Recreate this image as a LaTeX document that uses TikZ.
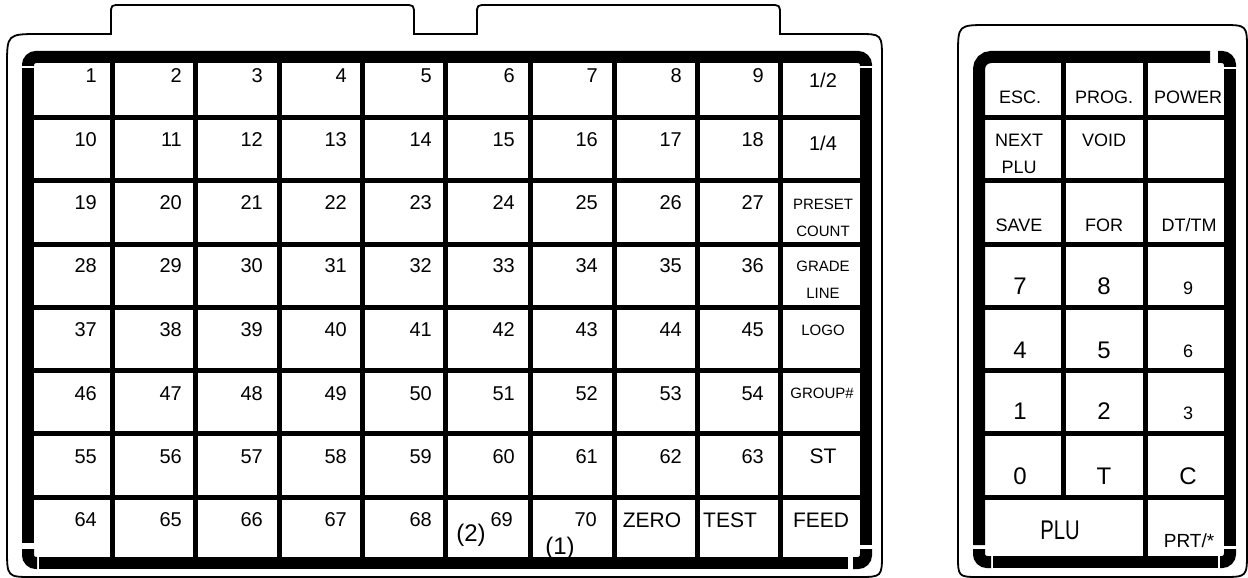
\documentclass[tikz,border=0pt]{standalone}
\usepackage{fontspec}
\setmainfont{Liberation Sans}
\tikzset{
  frame/.style={line width=12pt},
  bar/.style={line width=5pt},
  outline/.style={line width=1.8pt},
  num/.style={anchor=east, inner sep=0pt, font=\fontsize{20}{24}\selectfont},
  frac/.style={inner sep=0pt, font=\fontsize{20}{24}\selectfont},
  word/.style={inner sep=0pt, font=\fontsize{21}{25}\selectfont},
  note/.style={inner sep=0pt, font=\fontsize{24}{28}\selectfont},
  tag/.style={inner sep=0pt, align=center, font=\fontsize{15}{27}\selectfont},
  pad/.style={inner sep=0pt, align=center, font=\fontsize{18}{27}\selectfont},
  digit/.style={inner sep=0pt, font=\fontsize{24}{28}\selectfont}
}
\begin{document}
\begin{tikzpicture}[x=1pt,y=-1pt]
\useasboundingbox (0,0) rectangle (1248,578);
% outer outlines
\draw[outline] (7,548) -- (7,66) .. controls (7,34) .. (40,34) -- (111,34) -- (111,14) .. controls (111,5) .. (121,5) -- (404,5) .. controls (414,5) .. (414,15) -- (414,34) -- (477,34) -- (477,14) .. controls (477,5) .. (487,5) -- (770,5) .. controls (780,5) .. (780,15) -- (780,34) -- (858,34) .. controls (882,34) .. (882,60) -- (882,553) .. controls (882,577) .. (858,577) -- (32,577) .. controls (7,577) .. (7,548) -- cycle;
\draw[outline] (958,55) .. controls (958,25) .. (988,25) -- (1222,25) .. controls (1247,25) .. (1247,50) -- (1247,552) .. controls (1247,577) .. (1222,577) -- (980,577) .. controls (958,577) .. (958,555) -- cycle;
% left keypad grid
\draw[bar] (112,57) -- (112,563);
\draw[bar] (195,57) -- (195,563);
\draw[bar] (279,57) -- (279,563);
\draw[bar] (362,57) -- (362,563);
\draw[bar] (445,57) -- (445,563);
\draw[bar] (530,57) -- (530,563);
\draw[bar] (614,57) -- (614,563);
\draw[bar] (697,57) -- (697,563);
\draw[bar] (780,57) -- (780,563);
\draw[bar] (28,117.5) -- (866,117.5);
\draw[bar] (28,180.5) -- (866,180.5);
\draw[bar] (28,244.5) -- (866,244.5);
\draw[bar] (28,307.5) -- (866,307.5);
\draw[bar] (28,370.5) -- (866,370.5);
\draw[bar] (28,433.5) -- (866,433.5);
\draw[bar] (28,497.5) -- (866,497.5);
% left keypad frame
\draw[frame, rounded corners=8] (28,66) |- (866,57) -- (866,66);
\draw[frame] (28,68) -- (28,543);
\draw[frame] (866,68) -- (866,545);
\draw[frame, rounded corners=8] (28,549) |- (37,563);
\draw[frame] (39,563) -- (848,563);
\draw[frame, rounded corners=8] (866,549) |- (853,563);
% right keypad grid
\draw[bar] (1063,57) -- (1063,497.5);
\draw[bar] (1145.5,57) -- (1145.5,562);
\draw[bar] (979,117.5) -- (1230,117.5);
\draw[bar] (979,180.5) -- (1230,180.5);
\draw[bar] (979,244.5) -- (1230,244.5);
\draw[bar] (979,307.5) -- (1230,307.5);
\draw[bar] (979,370.5) -- (1230,370.5);
\draw[bar] (979,433.5) -- (1230,433.5);
\draw[bar] (979,497.5) -- (1230,497.5);
% right keypad frame
\draw[frame, rounded corners=12] (979,545) |- (1210,57);
\draw[frame, rounded corners=8] (1218,57) -| (1230,67);
\draw[frame] (1230,69) -- (1230,546);
\draw[frame, rounded corners=8] (979,549) |- (991,562);
\draw[frame] (993,562) -- (1218,562);
\draw[frame, rounded corners=8] (1230,549) |- (1220,562);
% left keys
\node[num] (k1) at (97,76) {1};
\node[num] (k2) at (182,76) {2};
\node[num] (k3) at (263,76) {3};
\node[num] (k4) at (347,76) {4};
\node[num] (k5) at (432,76) {5};
\node[num] (k6) at (515,76) {6};
\node[num] (k7) at (598,76) {7};
\node[num] (k8) at (682,76) {8};
\node[num] (k9) at (764,76) {9};
\node[frac] (khalf) at (823,80) {1/2};
\node[num] (k10) at (97,139.5) {10};
\node[num] (k11) at (182,139.5) {11};
\node[num] (k12) at (263,139.5) {12};
\node[num] (k13) at (347,139.5) {13};
\node[num] (k14) at (432,139.5) {14};
\node[num] (k15) at (515,139.5) {15};
\node[num] (k16) at (598,139.5) {16};
\node[num] (k17) at (682,139.5) {17};
\node[num] (k18) at (764,139.5) {18};
\node[frac] (kquarter) at (823,143) {1/4};
\node[num] (k19) at (97,202.5) {19};
\node[num] (k20) at (182,202.5) {20};
\node[num] (k21) at (263,202.5) {21};
\node[num] (k22) at (347,202.5) {22};
\node[num] (k23) at (432,202.5) {23};
\node[num] (k24) at (515,202.5) {24};
\node[num] (k25) at (598,202.5) {25};
\node[num] (k26) at (682,202.5) {26};
\node[num] (k27) at (764,202.5) {27};
\node[tag] (kpreset) at (823,217.5) {PRESET\\COUNT};
\node[num] (k28) at (97,265.5) {28};
\node[num] (k29) at (182,265.5) {29};
\node[num] (k30) at (263,265.5) {30};
\node[num] (k31) at (347,265.5) {31};
\node[num] (k32) at (432,265.5) {32};
\node[num] (k33) at (515,265.5) {33};
\node[num] (k34) at (598,265.5) {34};
\node[num] (k35) at (682,265.5) {35};
\node[num] (k36) at (764,265.5) {36};
\node[tag] (kgrade) at (823,279.5) {GRADE\\LINE};
\node[num] (k37) at (97,330) {37};
\node[num] (k38) at (182,330) {38};
\node[num] (k39) at (263,330) {39};
\node[num] (k40) at (347,330) {40};
\node[num] (k41) at (432,330) {41};
\node[num] (k42) at (515,330) {42};
\node[num] (k43) at (598,330) {43};
\node[num] (k44) at (682,330) {44};
\node[num] (k45) at (764,330) {45};
\node[tag] (klogo) at (823,330) {LOGO};
\node[num] (k46) at (97,393.5) {46};
\node[num] (k47) at (182,393.5) {47};
\node[num] (k48) at (263,393.5) {48};
\node[num] (k49) at (347,393.5) {49};
\node[num] (k50) at (432,393.5) {50};
\node[num] (k51) at (515,393.5) {51};
\node[num] (k52) at (598,393.5) {52};
\node[num] (k53) at (682,393.5) {53};
\node[num] (k54) at (764,393.5) {54};
\node[tag] (kgroup) at (822,393.5) {GROUP\#};
\node[num] (k55) at (97,456.5) {55};
\node[num] (k56) at (182,456.5) {56};
\node[num] (k57) at (263,456.5) {57};
\node[num] (k58) at (347,456.5) {58};
\node[num] (k59) at (432,456.5) {59};
\node[num] (k60) at (515,456.5) {60};
\node[num] (k61) at (598,456.5) {61};
\node[num] (k62) at (682,456.5) {62};
\node[num] (k63) at (764,456.5) {63};
\node[word] (kst) at (823,456.5) {ST};
\node[num] (k64) at (97,520) {64};
\node[num] (k65) at (182,520) {65};
\node[num] (k66) at (263,520) {66};
\node[num] (k67) at (347,520) {67};
\node[num] (k68) at (432,520) {68};
\node[num] (k69) at (513,520) {69};
\node[num] (k70) at (597,520) {70};
\node[note] (k69note) at (471,535) {(2)};
\node[note] (k70note) at (560,548) {(1)};
\node[word] (kzero) at (652,520) {ZERO};
\node[word, anchor=west] (ktest) at (703,520) {TEST};
\node[word] (kfeed) at (821,520) {FEED};
% right keys
\node[pad] (resc) at (1020,97) {ESC.};
\node[pad] (rprog) at (1104,97) {PROG.};
\node[pad] (rpower) at (1188,97) {POWER};
\node[pad] (rnext) at (1019,153.5) {NEXT\\PLU};
\node[pad] (rvoid) at (1104,140) {VOID};
\node[pad] (rsave) at (1019,225) {SAVE};
\node[pad] (rfor) at (1104,225) {FOR};
\node[pad] (rdttm) at (1189,225) {DT/TM};
\node[digit] (r7) at (1020,286) {7};
\node[digit] (r8) at (1104,286) {8};
\node[pad] (r9) at (1188,288) {9};
\node[digit] (r4) at (1020,350) {4};
\node[digit] (r5) at (1104,350) {5};
\node[pad] (r6) at (1188,351.5) {6};
\node[digit] (r1) at (1020,411.5) {1};
\node[digit] (r2) at (1104,411.5) {2};
\node[pad] (r3) at (1188,413.5) {3};
\node[digit] (r0) at (1020,476) {0};
\node[digit] (rt) at (1104,476) {T};
\node[digit] (rc) at (1188,476) {C};
\node[inner sep=0pt, font=\fontsize{27}{30}\selectfont] (rplu) at (1060,530) {\scalebox{0.75}[1]{PLU}};
\node[inner sep=0pt, font=\fontsize{19}{22}\selectfont] (rprt) at (1189,541) {PRT/*};
\end{tikzpicture}
\end{document}
